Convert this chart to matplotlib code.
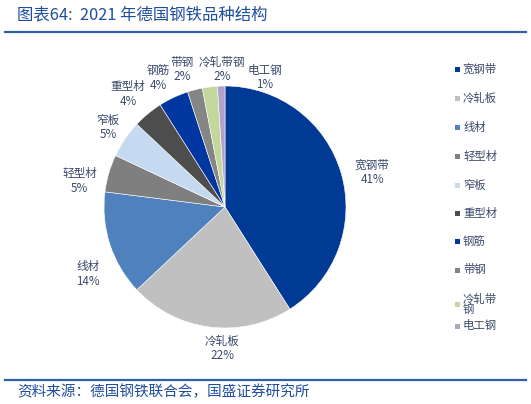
import numpy as np
import matplotlib
matplotlib.use('Agg')
import matplotlib.pyplot as plt
from matplotlib.patches import Rectangle
from matplotlib.lines import Line2D

plt.rcParams['font.family'] = ['Noto Sans CJK SC', 'DejaVu Sans']

# data
categories = ['宽钢带', '冷轧板', '线材', '轻型材', '窄板', '重型材', '钢筋', '带钢', '冷轧带钢', '电工钢']
shares = [41, 22, 14, 5, 5, 4, 4, 2, 2, 1]
legend_labels = ['宽钢带', '冷轧板', '线材', '轻型材', '窄板', '重型材', '钢筋', '带钢', '冷轧带\n钢', '电工钢']

colors = ['#003A94', '#C0C0C0', '#4F81BD', '#7F7F7F', '#C5D9F1',
          '#4D4D4D', '#0036A0', '#858585', '#C3D69B', '#B3A2C7']
# label placement tweaks (degrees added to wedge middle, radial factor)
label_shift = [-3, 6, 8, 6, 0, 1, 2, 3, -6, -19]
label_rad = [1.25, 1.17, 1.26, 1.22, 1.17, 1.23, 1.2, 1.19, 1.14, 1.12]

txt_color = '#3B4A6B'
blue = '#1F4E9C'

W, H = 531, 404
fig = plt.figure(figsize=(W / 100, H / 100), dpi=100)

cx, cy, r = 225, 207, 121
ax = fig.add_axes([(cx - r) / W, (H - cy - r) / H, 2 * r / W, 2 * r / H])
wedges, _ = ax.pie(shares, colors=colors, startangle=90, counterclock=False,
                   radius=1, wedgeprops=dict(edgecolor='white', linewidth=0.4))
ax.set_xlim(-1, 1)
ax.set_ylim(-1, 1)
ax.axis('off')

for w, name, val, dth, rf in zip(wedges, categories, shares, label_shift, label_rad):
    mid = np.deg2rad((w.theta1 + w.theta2) / 2 + dth)
    ax.text(rf * np.cos(mid), rf * np.sin(mid), f'{name}\n{val}%',
            ha='center', va='center', fontsize=8.4, color=txt_color,
            linespacing=1.15)

# legend drawn by hand
leg_y = [69, 98, 127, 156, 185, 213, 241, 270, 304, 326]
for y, lab, c in zip(leg_y, legend_labels, colors):
    fy = 1 - y / H
    fig.patches.append(Rectangle((455 / W, fy - 2.5 / H), 5 / W, 5 / H,
                                 transform=fig.transFigure, facecolor=c,
                                 edgecolor='none'))
    fig.text(463 / W, fy, lab, ha='left', va='center', fontsize=8.2,
             color=txt_color, linespacing=1.0)

# title, rules and source
fig.text(17 / W, 1 - 15 / H, '图表64:  2021 年德国钢铁品种结构', ha='left',
         va='center', fontsize=11.8, color=blue, style='italic')
fig.add_artist(Line2D([5 / W, 526 / W], [1 - 32 / H] * 2, color='#2E5FA8', lw=1.6))
fig.add_artist(Line2D([5 / W, 526 / W], [1 - 380 / H] * 2, color='#2E5FA8', lw=1.6))
fig.text(17 / W, 1 - 392 / H, '资料来源：德国钢铁联合会，国盛证券研究所', ha='left',
         va='center', fontsize=10.5, color=blue, style='italic')

fig.savefig('out.png', dpi=100)
